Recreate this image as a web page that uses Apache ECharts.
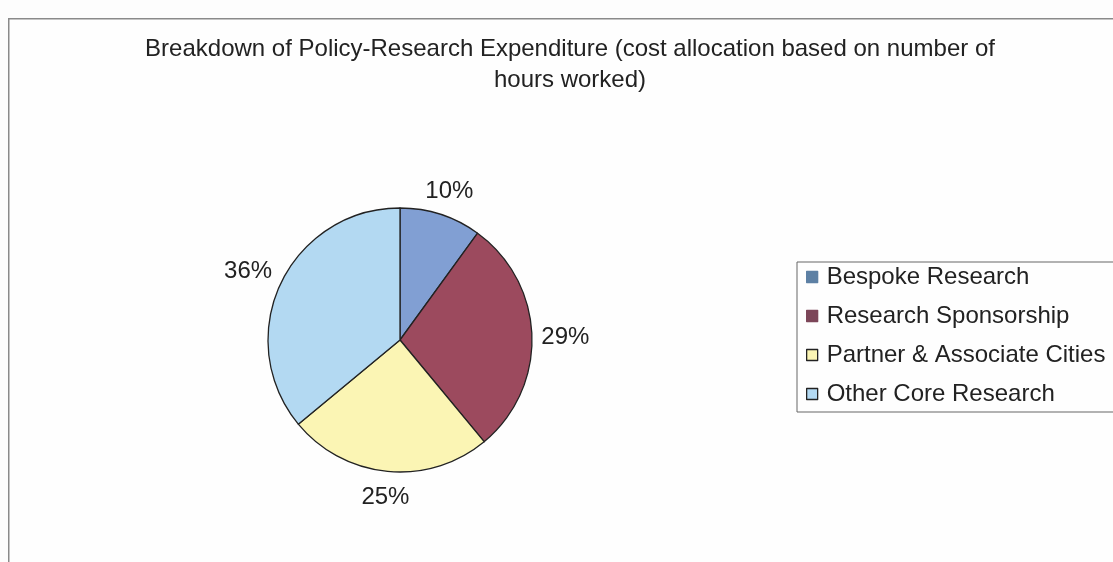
<!DOCTYPE html>
<html>
<head>
<meta charset="utf-8">
<script src="https://cdn.jsdelivr.net/npm/echarts@6/dist/echarts.min.js"></script>
<style>html,body{margin:0;padding:0;background:#fdfdfd;}#c{width:1113px;height:562px;}</style>
</head>
<body>
<div id="c"></div>
<script>
const categories = ['Bespoke Research', 'Research Sponsorship', 'Partner & Associate Cities', 'Other Core Research'];
const values = [10, 29, 25, 36];
const colors = ['#819fd3', '#9c4a5e', '#fbf5b4', '#b3d9f2'];
const legendColors = ['#5d80a4', '#7c4659', '#fbf5b4', '#b3d9f2'];
const titleText = 'Breakdown of Policy-Research Expenditure (cost allocation based on number of\nhours worked)';

const CX = 400, CY = 340, R = 132;
const total = values.reduce((a, b) => a + b, 0);
const midAngles = values.map((v, i) => {
  const before = values.slice(0, i).reduce((a, b) => a + b, 0);
  return (before + v / 2) / total * 2 * Math.PI;
});

const chart = echarts.init(document.getElementById('c'));
chart.setOption({
  backgroundColor: '#fdfdfd',
  animation: false,
  graphic: [{
    type: 'rect', left: 8, top: 18,
    shape: { width: 1130, height: 570 },
    style: { fill: '#fefefe', stroke: '#8a8a8a', lineWidth: 1.5 },
    z: -10
  }],
  title: {
    text: titleText,
    left: 570,
    textAlign: 'center',
    top: 34,
    padding: 0,
    textStyle: { fontFamily: 'Liberation Sans', fontSize: 24, fontWeight: 'normal', color: '#222', lineHeight: 31 }
  },
  legend: {
    orient: 'vertical',
    left: 797, top: 262,
    padding: [3, 60, 6, 9],
    itemGap: 15,
    itemWidth: 11, itemHeight: 11,
    icon: 'rect',
    borderColor: '#666', borderWidth: 1,
    backgroundColor: '#fefefe',
    textStyle: { fontFamily: 'Liberation Sans', fontSize: 24, color: '#222', padding: [0, 0, 0, 4] },
    data: categories.map((n, i) => ({
      name: n,
      itemStyle: { color: legendColors[i], borderColor: i < 2 ? legendColors[i] : '#222', borderWidth: 1.3 }
    }))
  },
  series: [{
    type: 'pie',
    center: [CX, CY],
    radius: R,
    startAngle: 90,
    clockwise: true,
    avoidLabelOverlap: false,
    itemStyle: { borderColor: '#222', borderWidth: 1.3 },
    label: {
      show: true, position: 'outside',
      formatter: p => Math.round(p.percent) + '%',
      fontFamily: 'Liberation Sans', fontSize: 24, color: '#222'
    },
    labelLine: { show: false, length: 14, length2: 0 },
    labelLayout: function (p) {
      const a = midAngles[p.dataIndex];
      const s = Math.sin(a), c = Math.cos(a);
      const hw = p.labelRect.width / 2, hh = p.labelRect.height / 2;
      const d = R + 9 + hw * Math.abs(s) + hh * Math.abs(c);
      return { x: CX + s * d, y: CY - c * d + 3, align: 'center', verticalAlign: 'middle' };
    },
    data: categories.map((n, i) => ({ name: n, value: values[i], itemStyle: { color: colors[i] } }))
  }]
});
</script>
</body>
</html>
